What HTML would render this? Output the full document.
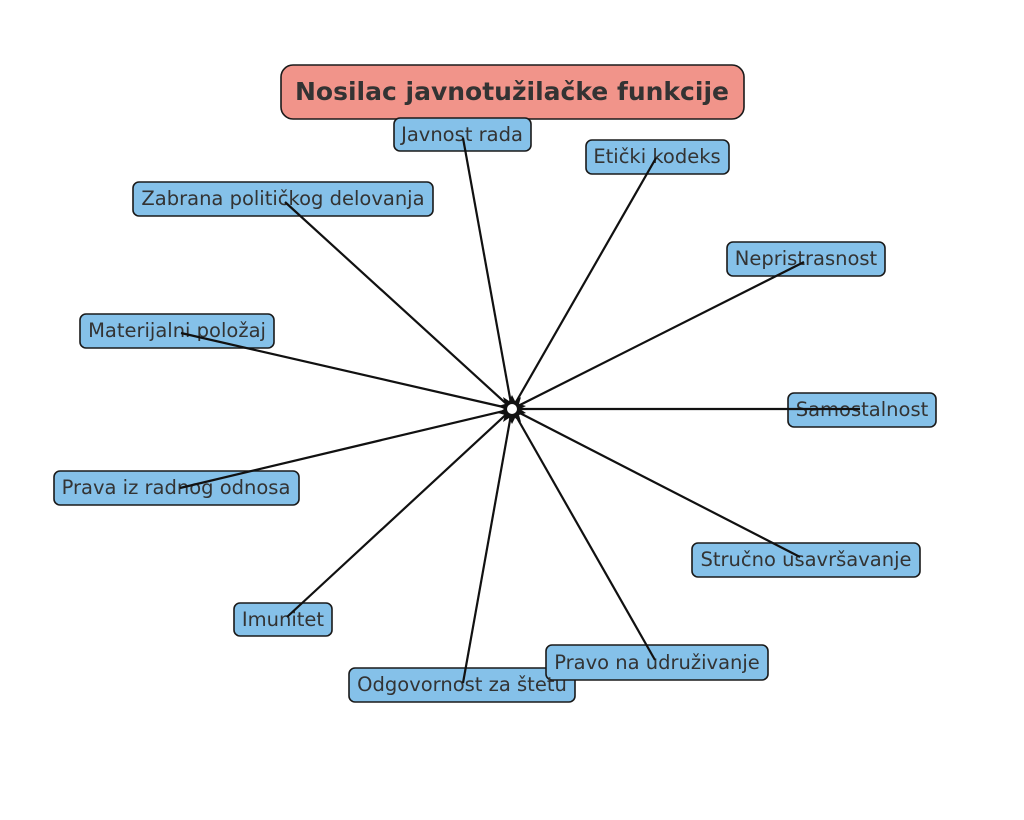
<!DOCTYPE html>
<html><head><meta charset="utf-8"><style>
html,body{margin:0;padding:0;background:#fff;}
svg{display:block;}
text{font-family:"DejaVu Sans","Liberation Sans",sans-serif;fill:#333;}
</style></head><body>
<svg width="1024" height="820" viewBox="0 0 1024 820" xmlns="http://www.w3.org/2000/svg">
<g stroke="#1a1a1a" stroke-width="1.6">
<rect x="281" y="65" width="463" height="54" rx="12" fill="#f1948a"/>
</g>
<text x="512" y="100" font-size="25" font-weight="bold" text-anchor="middle">Nosilac javnotužilačke funkcije</text>
<g stroke="#1a1a1a" stroke-width="1.6" fill="#85c1e9">
<rect x="394" y="118" width="137" height="33" rx="6"/>
<rect x="586" y="140" width="143" height="34" rx="6"/>
<rect x="133" y="182" width="300" height="34" rx="6"/>
<rect x="727" y="242" width="158" height="34" rx="6"/>
<rect x="80" y="314" width="194" height="34" rx="6"/>
<rect x="788" y="393" width="148" height="34" rx="6"/>
<rect x="54" y="471" width="245" height="34" rx="6"/>
<rect x="692" y="543" width="228" height="34" rx="6"/>
<rect x="234" y="603" width="98" height="33" rx="6"/>
<rect x="349" y="668" width="226" height="34" rx="6"/>
<rect x="546" y="645" width="222" height="35" rx="6"/>
</g>
<g font-size="19.5" text-anchor="middle">
<text x="462" y="141">Javnost rada</text>
<text x="657" y="163">Etički kodeks</text>
<text x="283" y="205">Zabrana političkog delovanja</text>
<text x="806" y="265">Nepristrasnost</text>
<text x="177" y="337">Materijalni položaj</text>
<text x="862" y="416">Samostalnost</text>
<text x="176" y="494">Prava iz radnog odnosa</text>
<text x="806" y="566">Stručno usavršavanje</text>
<text x="283" y="626">Imunitet</text>
<text x="462" y="691">Odgovornost za štetu</text>
<text x="657" y="669">Pravo na udruživanje</text>
</g>
<g stroke="#111" stroke-width="2.2" fill="none">
<line x1="512" y1="409" x2="463" y2="138"/>
<line x1="512" y1="409" x2="656" y2="158"/>
<line x1="512" y1="409" x2="804" y2="262"/>
<line x1="512" y1="409" x2="860" y2="409"/>
<line x1="512" y1="409" x2="800" y2="557"/>
<line x1="512" y1="409" x2="655" y2="660"/>
<line x1="512" y1="409" x2="463" y2="683"/>
<line x1="512" y1="409" x2="287" y2="617"/>
<line x1="512" y1="409" x2="180" y2="488"/>
<line x1="512" y1="409" x2="181" y2="333"/>
<line x1="512" y1="409" x2="285" y2="202"/>
</g>
<polygon fill="#111" points="512,395 515,401 521,397 519,404 526,406 520,409 526,413 519,415 521,422 515,418 512,424 509,418 503,422 505,415 498,413 504,409 498,406 505,404 503,397 509,401"/>
<circle cx="512" cy="409" r="5" fill="#fff"/>
</svg>
</body></html>
